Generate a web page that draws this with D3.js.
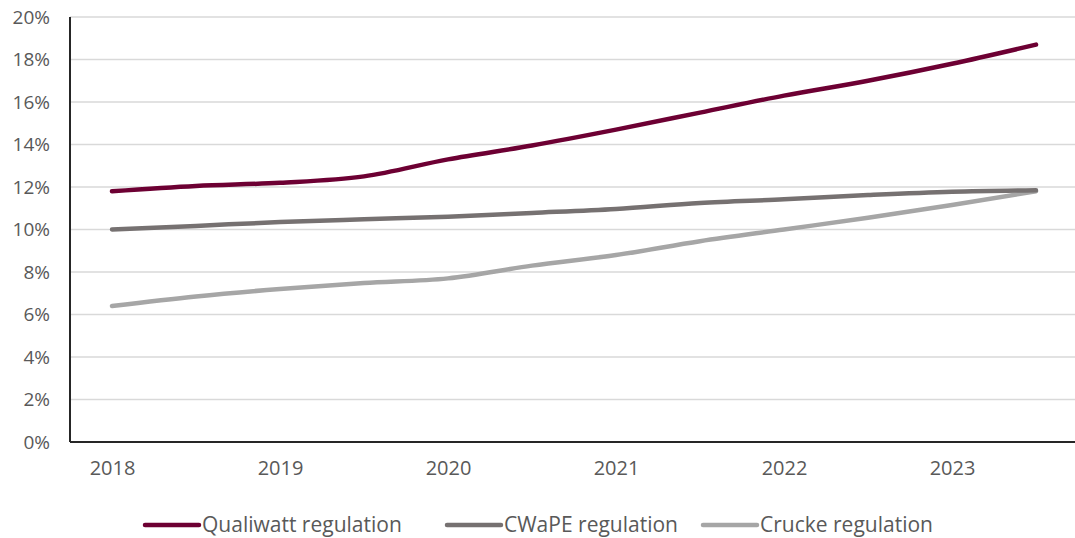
<!DOCTYPE html>
<html>
<head>
<meta charset="utf-8">
<script src="https://cdn.jsdelivr.net/npm/d3@7"></script>
<style>
  body { margin: 0; background: #fff; }
  svg { display: block; font-family: "Open Sans", "Noto Sans", sans-serif; }
</style>
</head>
<body>
<svg width="1075" height="538"></svg>
<script>
// half-year periods, a label is shown on the first half of each year
var periods = ["2018 H1", "2018 H2", "2019 H1", "2019 H2", "2020 H1", "2020 H2",
               "2021 H1", "2021 H2", "2022 H1", "2022 H2", "2023 H1", "2023 H2"];
var yearLabels = ["2018", "2019", "2020", "2021", "2022", "2023"];

// values in percent
var qualiwatt = [11.8, 12.05, 12.2, 12.5, 13.3, 13.95, 14.7, 15.5, 16.3, 17.0, 17.8, 18.7];
var cwape     = [10.0, 10.17, 10.35, 10.48, 10.6, 10.78, 10.97, 11.25, 11.42, 11.62, 11.78, 11.85];
var crucke    = [6.4, 6.85, 7.2, 7.48, 7.7, 8.3, 8.8, 9.45, 10.0, 10.55, 11.15, 11.8];

var seriesNames = ["Qualiwatt regulation", "CWaPE regulation", "Crucke regulation"];
var seriesColors = ["#6d0033", "#767171", "#a6a6a6"];
var yTicks = [0, 2, 4, 6, 8, 10, 12, 14, 16, 18, 20];

var drawChart = function() {
  let svg = d3.select("svg");

  let margin = {
    top:    17,
    right:  -3, // gridlines run to the window edge
    bottom: 96, // space for labels and legend
    left:   70
  };

  let width = 1075, height = 538;
  let plotWidth = width - margin.left - margin.right;
  let plotHeight = height - margin.top - margin.bottom;

  let x = d3.scalePoint()
    .domain(periods)
    .range([0, plotWidth])
    .padding(0.5);

  let y = d3.scaleLinear()
    .domain([0, 20])
    .range([plotHeight, 0]);

  let plot = svg.append("g")
    .attr("transform", "translate(" + margin.left + "," + margin.top + ")");

  // horizontal gridlines
  plot.append("g")
    .selectAll("line")
    .data(yTicks.filter(function(d) { return d > 0; }))
    .enter()
    .append("line")
    .attr("x1", 0)
    .attr("x2", plotWidth)
    .attr("y1", function(d) { return y(d); })
    .attr("y2", function(d) { return y(d); })
    .attr("stroke", "#d9d9d9")
    .attr("stroke-width", 1.5);

  // y-axis labels
  let yAxis = d3.axisLeft(y)
    .tickValues(yTicks)
    .tickSize(0)
    .tickPadding(20)
    .tickFormat(function(d) { return d + "%"; });

  let yGroup = plot.append("g").call(yAxis);
  yGroup.select(".domain").remove();
  yGroup.selectAll("text")
    .attr("fill", "#595959")
    .style("font-size", "19px")
    .style("font-family", "'Open Sans', sans-serif");

  // x-axis labels on the first half of each year
  let xAxis = d3.axisBottom(x)
    .tickValues(periods.filter(function(d, i) { return i % 2 === 0; }))
    .tickSize(0)
    .tickPadding(19)
    .tickFormat(function(d, i) { return yearLabels[i]; });

  let xGroup = plot.append("g")
    .attr("transform", "translate(0," + plotHeight + ")")
    .call(xAxis);
  xGroup.select(".domain").remove();
  xGroup.selectAll("text")
    .attr("fill", "#595959")
    .style("font-size", "20px")
    .style("font-family", "'Open Sans', sans-serif");

  // axis lines
  plot.append("line")
    .attr("x1", 0).attr("x2", 0)
    .attr("y1", 0).attr("y2", plotHeight)
    .attr("stroke", "#262626")
    .attr("stroke-width", 2);
  plot.append("line")
    .attr("x1", 0).attr("x2", plotWidth)
    .attr("y1", plotHeight).attr("y2", plotHeight)
    .attr("stroke", "#262626")
    .attr("stroke-width", 2);

  let allSeries = [qualiwatt, cwape, crucke];

  let line = d3.line()
    .x(function(d, i) { return x(periods[i]); })
    .y(function(d) { return y(d); })
    .curve(d3.curveMonotoneX);

  // draw lightest first so the darker lines sit on top
  for (let s = allSeries.length - 1; s >= 0; s--) {
    plot.append("path")
      .datum(allSeries[s])
      .attr("fill", "none")
      .attr("stroke", seriesColors[s])
      .attr("stroke-width", 4.5)
      .attr("stroke-linecap", "round")
      .attr("stroke-linejoin", "round")
      .attr("d", line);
  }

  // legend
  let legendX = [145, 447, 703];
  let legend = svg.append("g").attr("transform", "translate(0,525)");

  for (let s = 0; s < seriesNames.length; s++) {
    legend.append("line")
      .attr("x1", legendX[s]).attr("x2", legendX[s] + 54)
      .attr("y1", 0).attr("y2", 0)
      .attr("stroke", seriesColors[s])
      .attr("stroke-width", 4.5)
      .attr("stroke-linecap", "round");

    legend.append("text")
      .attr("x", legendX[s] + 57)
      .attr("y", 0)
      .attr("dy", "0.35em")
      .attr("fill", "#595959")
      .style("font-size", "21px")
      .text(seriesNames[s]);
  }
};

drawChart();
</script>
</body>
</html>
